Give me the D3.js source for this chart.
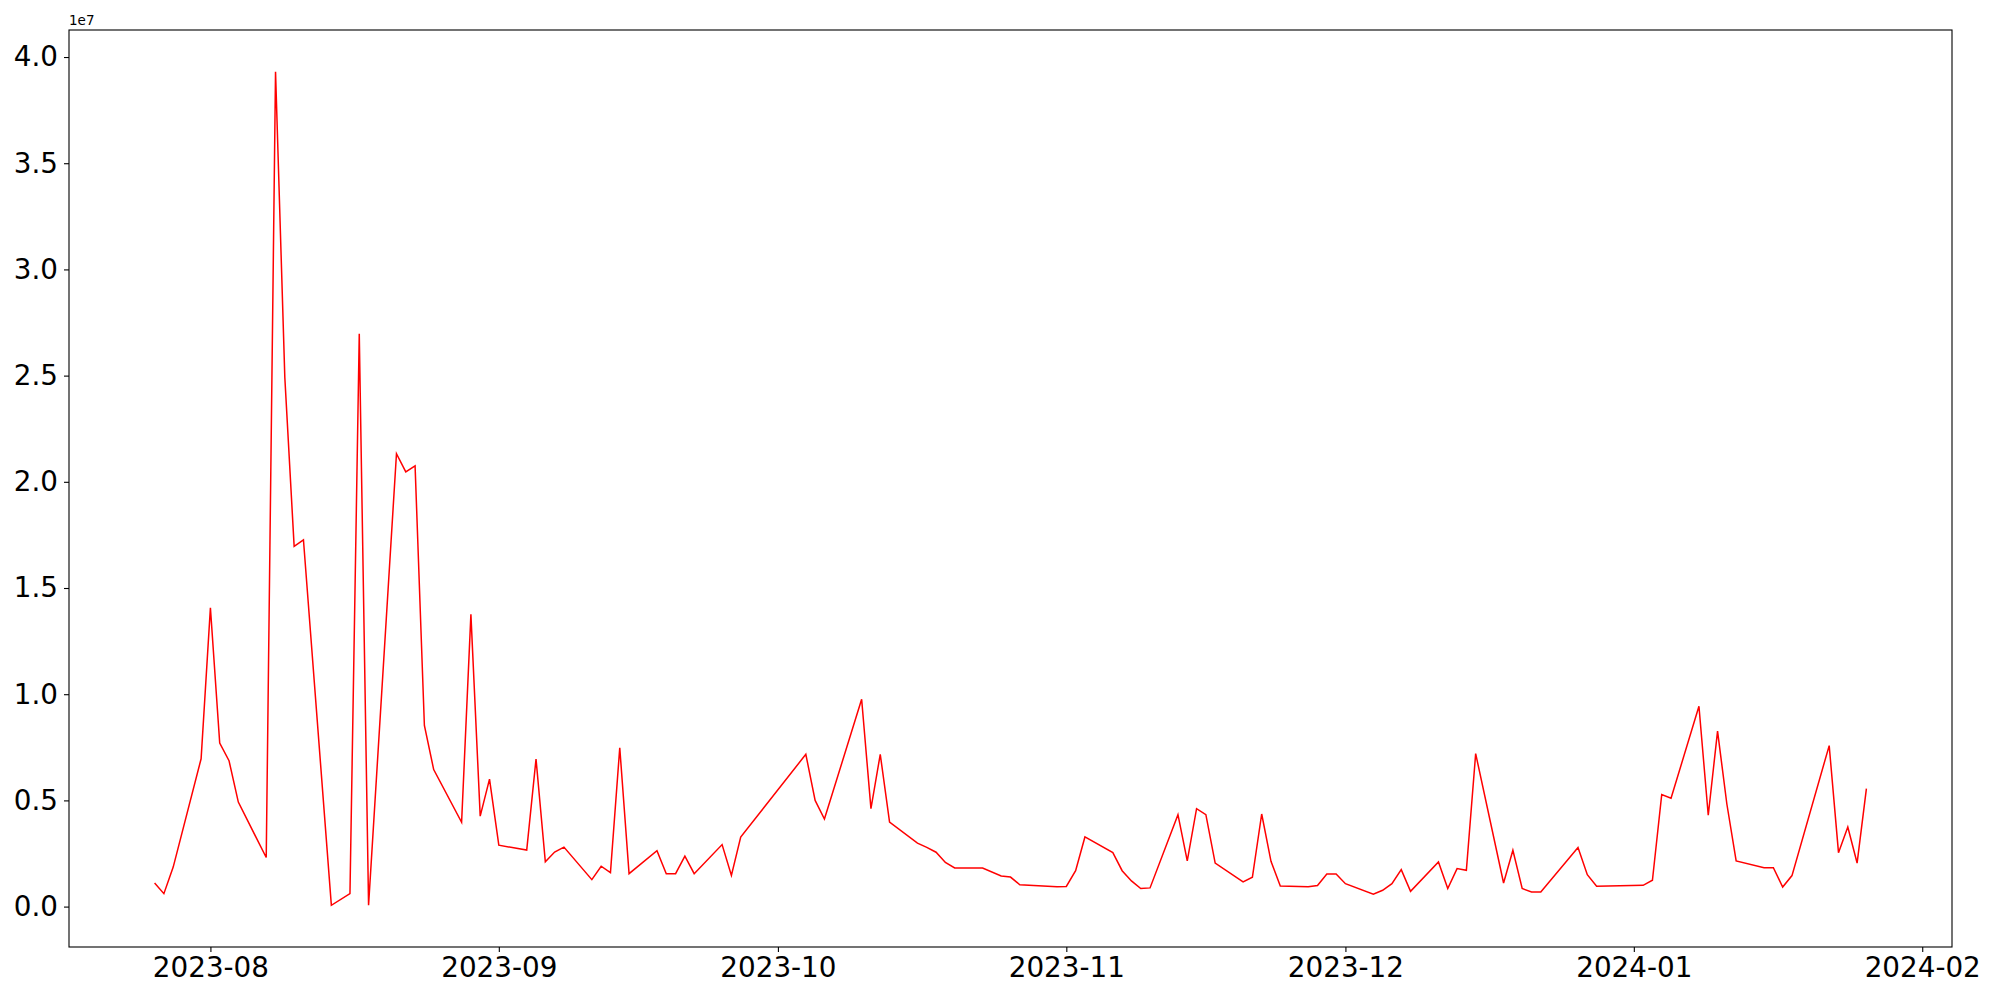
<!DOCTYPE html>
<html>
<head>
<meta charset="utf-8">
<script src="https://cdn.jsdelivr.net/npm/d3@7"></script>
<style>
  body { margin: 0; background: #fff; }
  text { font-family: "DejaVu Sans", sans-serif; }
</style>
</head>
<body>
<script>
// daily values, units of 1e7
var dates = [
  '2023-07-26','2023-07-27','2023-07-28','2023-07-31','2023-08-01','2023-08-02','2023-08-03','2023-08-04',
  '2023-08-07','2023-08-08','2023-08-09','2023-08-10','2023-08-11','2023-08-14','2023-08-16','2023-08-17',
  '2023-08-18','2023-08-21','2023-08-22','2023-08-23','2023-08-24','2023-08-25','2023-08-28','2023-08-29',
  '2023-08-30','2023-08-31','2023-09-01','2023-09-04','2023-09-05','2023-09-06','2023-09-07','2023-09-08',
  '2023-09-11','2023-09-12','2023-09-13','2023-09-14','2023-09-15','2023-09-18','2023-09-19','2023-09-20',
  '2023-09-21','2023-09-22','2023-09-25','2023-09-26','2023-09-27','2023-10-04','2023-10-05','2023-10-06',
  '2023-10-10','2023-10-11','2023-10-12','2023-10-13','2023-10-16','2023-10-17','2023-10-18','2023-10-19',
  '2023-10-20','2023-10-23','2023-10-25','2023-10-26','2023-10-27','2023-10-31','2023-11-01','2023-11-02',
  '2023-11-03','2023-11-06','2023-11-07','2023-11-08','2023-11-09','2023-11-10','2023-11-13','2023-11-14',
  '2023-11-15','2023-11-16','2023-11-17','2023-11-20','2023-11-21','2023-11-22','2023-11-23','2023-11-24',
  '2023-11-27','2023-11-28','2023-11-29','2023-11-30','2023-12-01','2023-12-04','2023-12-05','2023-12-06',
  '2023-12-07','2023-12-08','2023-12-11','2023-12-12','2023-12-13','2023-12-14','2023-12-15','2023-12-18',
  '2023-12-19','2023-12-20','2023-12-21','2023-12-22','2023-12-26','2023-12-27','2023-12-28','2024-01-02',
  '2024-01-03','2024-01-04','2024-01-05','2024-01-08','2024-01-09','2024-01-10','2024-01-11','2024-01-12',
  '2024-01-15','2024-01-16','2024-01-17','2024-01-18','2024-01-22','2024-01-23','2024-01-24','2024-01-25',
  '2024-01-26'
];

var values = [
  0.111, 0.061, 0.186, 0.696, 1.407, 0.770, 0.687, 0.492,
  0.231, 3.931, 2.490, 1.696, 1.727, 0.006, 0.061, 2.697,
  0.006, 2.132, 2.047, 2.075, 0.853, 0.645, 0.397, 1.376,
  0.426, 0.600, 0.289, 0.266, 0.695, 0.211, 0.257, 0.280,
  0.127, 0.190, 0.160, 0.748, 0.155, 0.263, 0.155, 0.155,
  0.238, 0.155, 0.292, 0.147, 0.327, 0.717, 0.500, 0.412,
  0.976, 0.461, 0.717, 0.398, 0.299, 0.279, 0.256, 0.208,
  0.182, 0.182, 0.144, 0.139, 0.103, 0.094, 0.095, 0.169,
  0.328, 0.254, 0.169, 0.121, 0.085, 0.088, 0.433, 0.215,
  0.461, 0.433, 0.205, 0.116, 0.138, 0.436, 0.213, 0.097,
  0.094, 0.099, 0.153, 0.153, 0.108, 0.058, 0.077, 0.108,
  0.174, 0.072, 0.210, 0.085, 0.179, 0.171, 0.720, 0.111,
  0.265, 0.085, 0.069, 0.069, 0.278, 0.150, 0.096, 0.100,
  0.124, 0.528, 0.510, 0.943, 0.430, 0.826, 0.483, 0.215,
  0.183, 0.183, 0.092, 0.146, 0.758, 0.254, 0.375, 0.205,
  0.555
];

var yTicks = [0, 0.5, 1.0, 1.5, 2.0, 2.5, 3.0, 3.5, 4.0];
var yOffsetLabel = '1e7';

var width = 2000,
    height = 1000;
var margin = {top: 30, right: 48, bottom: 53, left: 69};
var innerW = width - margin.left - margin.right,
    innerH = height - margin.top - margin.bottom;

var parse = d3.utcParse('%Y-%m-%d');
var data = dates.map(function(d, i) {
  return {date: parse(d), value: values[i] * 1e7};
});

var svg = d3.select('body')
  .append('svg')
  .attr('width', width)
  .attr('height', height);

var g = svg.append('g')
  .attr('transform', 'translate(' + margin.left + ',' + margin.top + ')');

// matplotlib style 5% padding on both axes
var xExt = d3.extent(data, function(d) { return d.date; });
var xPad = (xExt[1] - xExt[0]) * 0.05;
var x = d3.scaleUtc()
  .domain([new Date(+xExt[0] - xPad), new Date(+xExt[1] + xPad)])
  .range([0, innerW]);

var yExt = d3.extent(data, function(d) { return d.value; });
var yPad = (yExt[1] - yExt[0]) * 0.05;
var y = d3.scaleLinear()
  .domain([yExt[0] - yPad, yExt[1] + yPad])
  .range([innerH, 0]);

var line = d3.line()
  .x(function(d) { return x(d.date); })
  .y(function(d) { return y(d.value); });

g.append('path')
  .datum(data)
  .attr('fill', 'none')
  .attr('stroke', '#ff0000')
  .attr('stroke-width', 1.5)
  .attr('stroke-linejoin', 'miter')
  .attr('d', line);

var xAxis = g.append('g')
  .attr('transform', 'translate(0,' + innerH + ')')
  .call(d3.axisBottom(x)
    .ticks(d3.utcMonth.every(1))
    .tickFormat(d3.utcFormat('%Y-%m'))
    .tickSize(5)
    .tickPadding(5)
    .tickSizeOuter(0));

var yAxis = g.append('g')
  .call(d3.axisLeft(y)
    .tickValues(yTicks.map(function(v) { return v * 1e7; }))
    .tickFormat(function(d) { return (d / 1e7).toFixed(1); })
    .tickSize(5)
    .tickPadding(6)
    .tickSizeOuter(0));

[xAxis, yAxis].forEach(function(a) {
  a.select('.domain').remove();
  a.selectAll('.tick line').attr('stroke', '#000').attr('stroke-width', 1.1);
  a.selectAll('.tick text')
    .attr('fill', '#000')
    .style('font-family', '"DejaVu Sans", sans-serif')
    .style('font-size', '27.8px');
});

// frame
g.append('rect')
  .attr('width', innerW)
  .attr('height', innerH)
  .attr('fill', 'none')
  .attr('stroke', '#000')
  .attr('stroke-width', 1.1);

g.append('text')
  .attr('x', 0)
  .attr('y', -5)
  .style('font-size', '13.5px')
  .attr('fill', '#000')
  .text(yOffsetLabel);
</script>
</body>
</html>
